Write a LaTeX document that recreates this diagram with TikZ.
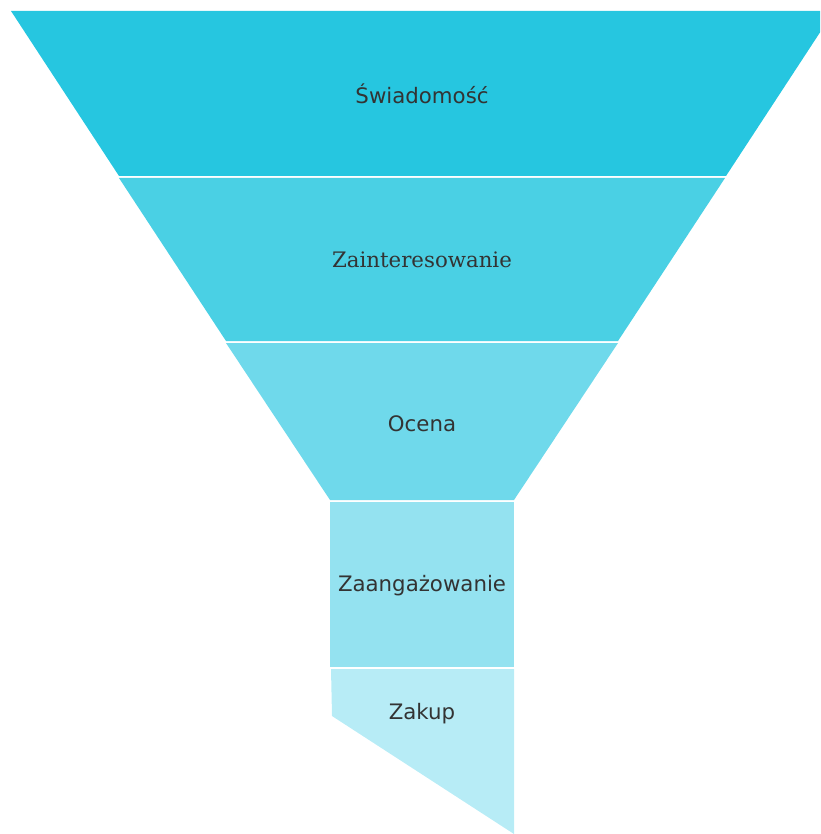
\documentclass[tikz,border=0pt]{standalone}
\usepackage{fontspec}
\setmainfont{DejaVu Sans}
\newfontfamily\dvserif{DejaVu Serif}
\usetikzlibrary{positioning}
\definecolor{funnelA}{HTML}{26C6E0}
\definecolor{funnelB}{HTML}{4AD0E4}
\definecolor{funnelC}{HTML}{6FD9EB}
\definecolor{funnelD}{HTML}{94E2F0}
\definecolor{funnelE}{HTML}{B7ECF6}
\definecolor{lbltext}{HTML}{333333}
\tikzset{
  stagelbl/.style={text=lbltext, inner sep=0pt, font=\fontsize{21.3}{25}\selectfont},
}

\begin{document}
\begin{tikzpicture}[x=1pt,y=-1pt]
  \useasboundingbox (0,0) rectangle (820,834);
  \clip (0,0) rectangle (820,834);
  % stages of the funnel
  \fill[funnelA] (11,11) -- (834,11) -- (726,176) -- (119,176) -- cycle;
  \fill[funnelB] (119,178) -- (725,178) -- (618,341) -- (226,341) -- cycle;
  \fill[funnelC] (226,343) -- (618,343) -- (514,500) -- (330,500) -- cycle;
  \fill[funnelD] (330,502) rectangle (514,667);
  \fill[funnelE] (331,669) -- (514,669) -- (514,834) -- (332,716) -- cycle;
  % labels
  \node[stagelbl] (s1) at (422,94) {Świadomość};
  \node[stagelbl, font=\dvserif\fontsize{21.3}{25}\selectfont] (s2) at (422,260) {Zainteresowanie};
  \node[stagelbl] (s3) at (422,424) {Ocena};
  \node[stagelbl] (s4) at (422,586) {Zaangażowanie};
  \node[stagelbl] (s5) at (422,714) {Zakup};
\end{tikzpicture}
\end{document}
